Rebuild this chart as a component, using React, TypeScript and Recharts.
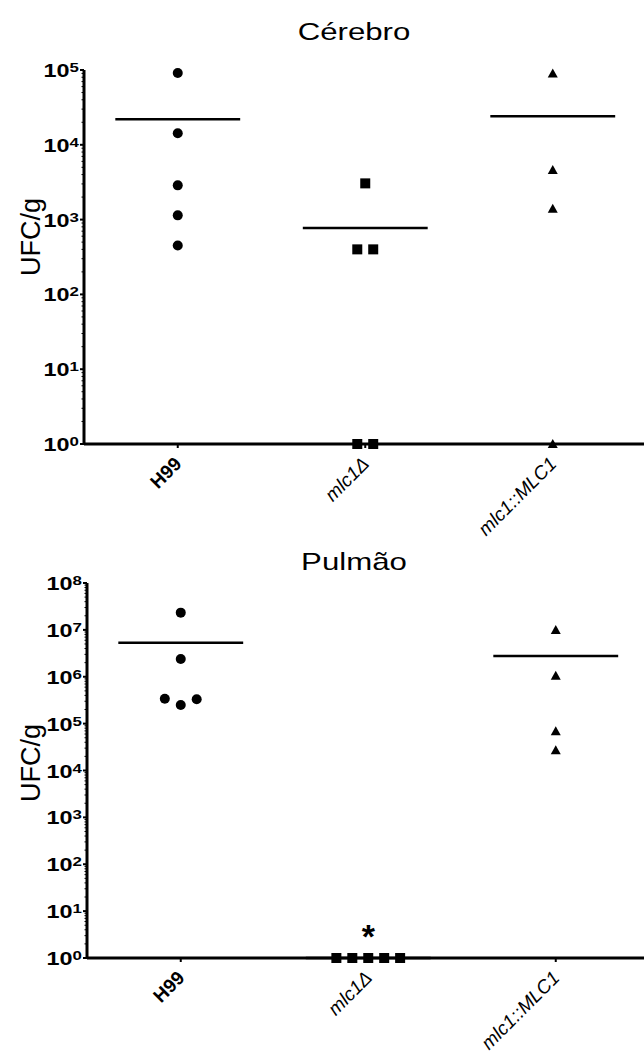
import React from "react";
import { ScatterChart, Scatter, XAxis, YAxis, ReferenceLine, ReferenceDot } from "recharts";

const FONT = "'Liberation Sans', Arial, sans-serif";

const CATEGORIES = ["H99", "mlc1Δ", "mlc1::MLC1"];

// Cérebro (UFC/g)
const BRAIN_H99 = [91000, 14300, 2870, 1140, 450];
const BRAIN_MLC1D = [3050, 400, 400, 1, 1];
const BRAIN_COMP = [90000, 4600, 1400, 1];

// Pulmão (UFC/g)
const LUNG_H99 = [23300000, 2400000, 340000, 250000, 330000];
const LUNG_MLC1D = [1, 1, 1, 1, 1];
const LUNG_COMP = [10000000, 1050000, 69000, 27000];

// column scatter: points at about the same height sit side by side
function columnPoints(values: number[], cat: number, binDecades: number, step: number) {
  const groups: { ref: number; idx: number[] }[] = [];
  values.forEach((v, i) => {
    const lv = Math.log10(v);
    const g = groups.find((gr) => Math.abs(gr.ref - lv) < binDecades);
    if (g) g.idx.push(i);
    else groups.push({ ref: lv, idx: [i] });
  });
  const pts: { x: number; y: number }[] = [];
  groups.forEach((g) => {
    g.idx.forEach((i, k) => {
      pts.push({ x: cat + (k - (g.idx.length - 1) / 2) * step, y: values[i] });
    });
  });
  return pts;
}

const mean = (a: number[]) => a.reduce((s, v) => s + v, 0) / a.length;

function logTicks(maxExp: number) {
  const t: number[] = [];
  for (let e = 0; e <= maxExp; e++) {
    t.push(Math.pow(10, e));
    if (e < maxExp) for (let m = 2; m <= 9; m++) t.push(m * Math.pow(10, e));
  }
  return t;
}

function YTick(props: any) {
  const { x, y, payload } = props;
  const lv = Math.log10(payload.value);
  const e = Math.round(lv);
  if (Math.abs(lv - e) > 1e-6) {
    return <line x1={x - 2.5} x2={x} y1={y} y2={y} stroke="#000" strokeWidth={1} />;
  }
  return (
    <g>
      <line x1={x - 4} x2={x} y1={y} y2={y} stroke="#000" strokeWidth={2} />
      <g transform={`translate(${x - 5},${y + 7}) scale(1.3,1)`}>
        <text textAnchor="end" fontFamily={FONT} fontWeight="bold" fontSize={18} fill="#000">
          10<tspan fontSize={13} dy={-5}>{e}</tspan>
        </text>
      </g>
    </g>
  );
}

function XTick(props: any) {
  const { x, y, payload } = props;
  const label = CATEGORIES[payload.value - 1];
  const isWt = label === "H99";
  return (
    <g>
      <line x1={x} x2={x} y1={y} y2={y + 4} stroke="#000" strokeWidth={2} />
      <text
        x={x + 5}
        y={y + 21}
        transform={`rotate(-45 ${x + 5} ${y + 21})`}
        textAnchor="end"
        fontFamily={FONT}
        fontSize={19}
        fontWeight={isWt ? "bold" : "normal"}
        fontStyle={isWt ? "normal" : "italic"}
        fill="#000"
      >
        {label}
      </text>
    </g>
  );
}

const Circle = (p: any) => <circle cx={p.cx} cy={p.cy} r={5} fill="#000" />;
const Square = (p: any) => <rect x={p.cx - 5} y={p.cy - 5} width={10} height={10} fill="#000" />;
const Triangle = (p: any) => (
  <path d={`M${p.cx},${p.cy - 5} L${p.cx + 5},${p.cy + 4} L${p.cx - 5},${p.cy + 4} Z`} fill="#000" />
);

const STEP = 0.085;

interface PanelProps {
  title: string;
  groups: number[][];
  maxExp: number;
  height: number;
  top: number;
  axisWidth: number;
  xAxisHeight: number;
  right: number;
  bin: number;
  titleY: number;
  labelY: number;
  star?: boolean;
}

function Panel(p: PanelProps) {
  const shapes = [Circle, Square, Triangle];
  return (
    <div style={{ position: "relative", width: 660, height: p.height }}>
      <ScatterChart
        width={660}
        height={p.height}
        margin={{ top: p.top, right: p.right, bottom: 0, left: 0 }}
      >
        <XAxis
          type="number"
          dataKey="x"
          domain={[0.5, 3.5]}
          ticks={[1, 2, 3]}
          interval={0}
          tickSize={0}
          tickMargin={0}
          tick={<XTick />}
          axisLine={{ stroke: "#000", strokeWidth: 3 }}
          tickLine={false}
          height={p.xAxisHeight}
        />
        <YAxis
          type="number"
          dataKey="y"
          scale="log"
          domain={[1, Math.pow(10, p.maxExp)]}
          ticks={logTicks(p.maxExp)}
          interval={0}
          tickSize={0}
          tickMargin={0}
          tick={<YTick />}
          axisLine={{ stroke: "#000", strokeWidth: 3 }}
          tickLine={false}
          width={p.axisWidth}
        />
        {p.groups.map((vals, i) => (
          <ReferenceLine
            key={"m" + i}
            segment={[
              { x: i + 1 - 0.333, y: mean(vals) },
              { x: i + 1 + 0.333, y: mean(vals) },
            ]}
            stroke="#000"
            strokeWidth={2.5}
            ifOverflow="visible"
          />
        ))}
        {p.groups.map((vals, i) => (
          <Scatter
            key={"s" + i}
            data={columnPoints(vals, i + 1, p.bin, STEP)}
            shape={shapes[i]}
            isAnimationActive={false}
          />
        ))}
        {p.star && (
          <ReferenceDot
            x={2}
            y={1}
            r={0}
            ifOverflow="visible"
            shape={(d: any) => (
              <text
                x={d.cx}
                y={d.cy - 10}
                textAnchor="middle"
                fontFamily={FONT}
                fontWeight="bold"
                fontSize={34}
                fill="#000"
              >
                *
              </text>
            )}
          />
        )}
      </ScatterChart>
      <svg
        width={660}
        height={p.height}
        style={{ position: "absolute", left: 0, top: 0, pointerEvents: "none" }}
      >
        <g transform={`translate(354,${p.titleY}) scale(1.3,1)`}>
          <text textAnchor="middle" fontFamily={FONT} fontSize={24} fill="#000">
            {p.title}
          </text>
        </g>
        <text
          x={31}
          y={p.labelY}
          transform={`rotate(-90 31 ${p.labelY})`}
          textAnchor="middle"
          dominantBaseline="central"
          fontFamily={FONT}
          fontSize={27}
          fill="#000"
        >
          UFC/g
        </text>
      </svg>
    </div>
  );
}

export default function App() {
  return (
    <div
      style={{
        position: "fixed",
        left: 0,
        top: 0,
        width: 644,
        height: 1057,
        overflow: "hidden",
        background: "#fff",
      }}
    >
      <Panel
        title="Cérebro"
        groups={[BRAIN_H99, BRAIN_MLC1D, BRAIN_COMP]}
        maxExp={5}
        height={545}
        top={70}
        axisWidth={84}
        xAxisHeight={101}
        right={13.5}
        bin={0.134}
        titleY={40}
        labelY={237}
      />
      <Panel
        title="Pulmão"
        groups={[LUNG_H99, LUNG_MLC1D, LUNG_COMP]}
        maxExp={8}
        height={512}
        top={38}
        axisWidth={87}
        xAxisHeight={99}
        right={10.5}
        bin={0.21}
        titleY={25}
        labelY={218}
        star
      />
    </div>
  );
}
